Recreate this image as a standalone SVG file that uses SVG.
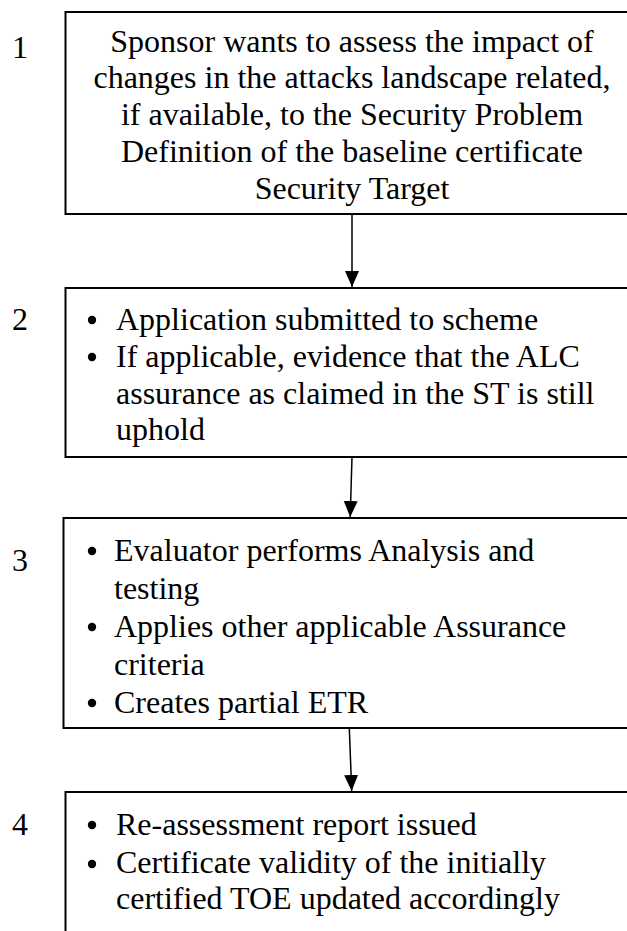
<svg xmlns="http://www.w3.org/2000/svg" width="627" height="931" viewBox="0 0 627 931">
<style>
.box{fill:#fff;stroke:#000;stroke-width:2}
text{font-family:'Liberation Serif','Times New Roman',Times,serif;font-size:32px;fill:#000}
.c{text-anchor:middle}
.b{fill:#000}
.con{stroke:#000;stroke-width:1.5;fill:none}
</style>
<defs>
<marker id="ah" markerUnits="userSpaceOnUse" markerWidth="17" markerHeight="15" refX="16" refY="7.5" orient="auto">
<path d="M0,0.5 L16,7.5 L0,14.5 z" fill="#000"/>
</marker>
</defs>
<rect width="627" height="931" fill="#fff"/>
<g id="connectors">
<line class="con" x1="352" y1="214" x2="352" y2="287" marker-end="url(#ah)"/>
<line class="con" x1="352" y1="457" x2="350.2" y2="517" marker-end="url(#ah)"/>
<line class="con" x1="349.3" y1="728" x2="351.7" y2="791" marker-end="url(#ah)"/>
</g>
<g id="node1" font-family="Liberation Serif, serif">
<rect class="box" x="65.5" y="12" width="600" height="202"/>
<text x="12" y="58">1</text>
<text class="c" x="352" y="51.7">Sponsor wants to assess the impact of</text>
<text class="c" x="352" y="88.4">changes in the attacks landscape related,</text>
<text class="c" x="352" y="125.1">if available, to the Security Problem</text>
<text class="c" x="352" y="161.8">Definition of the baseline certificate</text>
<text class="c" x="352" y="198.5">Security Target</text>
</g>
<g id="node2">
<rect class="box" x="65.5" y="288" width="600" height="169"/>
<text x="12" y="330">2</text>
<circle class="b" cx="92" cy="320" r="4.2"/>
<text x="116" y="330">Application submitted to scheme</text>
<circle class="b" cx="92" cy="357" r="4.2"/>
<text x="116" y="367">If applicable, evidence that the ALC</text>
<text x="116" y="403.5">assurance as claimed in the ST is still</text>
<text x="116" y="440">uphold</text>
</g>
<g id="node3">
<rect class="box" x="63.5" y="518" width="600" height="210"/>
<text x="12" y="571">3</text>
<circle class="b" cx="92" cy="551" r="4.2"/>
<text x="114" y="561">Evaluator performs Analysis and</text>
<text x="114" y="599">testing</text>
<circle class="b" cx="92" cy="627" r="4.2"/>
<text x="114" y="637">Applies other applicable Assurance</text>
<text x="114" y="675">criteria</text>
<circle class="b" cx="92" cy="703" r="4.2"/>
<text x="114" y="713">Creates partial ETR</text>
</g>
<g id="node4">
<rect class="box" x="65.5" y="792" width="600" height="200"/>
<text x="12" y="835">4</text>
<circle class="b" cx="92" cy="825" r="4.2"/>
<text x="116" y="835">Re-assessment report issued</text>
<circle class="b" cx="92" cy="864" r="4.2"/>
<text x="116" y="873">Certificate validity of the initially</text>
<text x="116" y="909">certified TOE updated accordingly</text>
</g>
</svg>
